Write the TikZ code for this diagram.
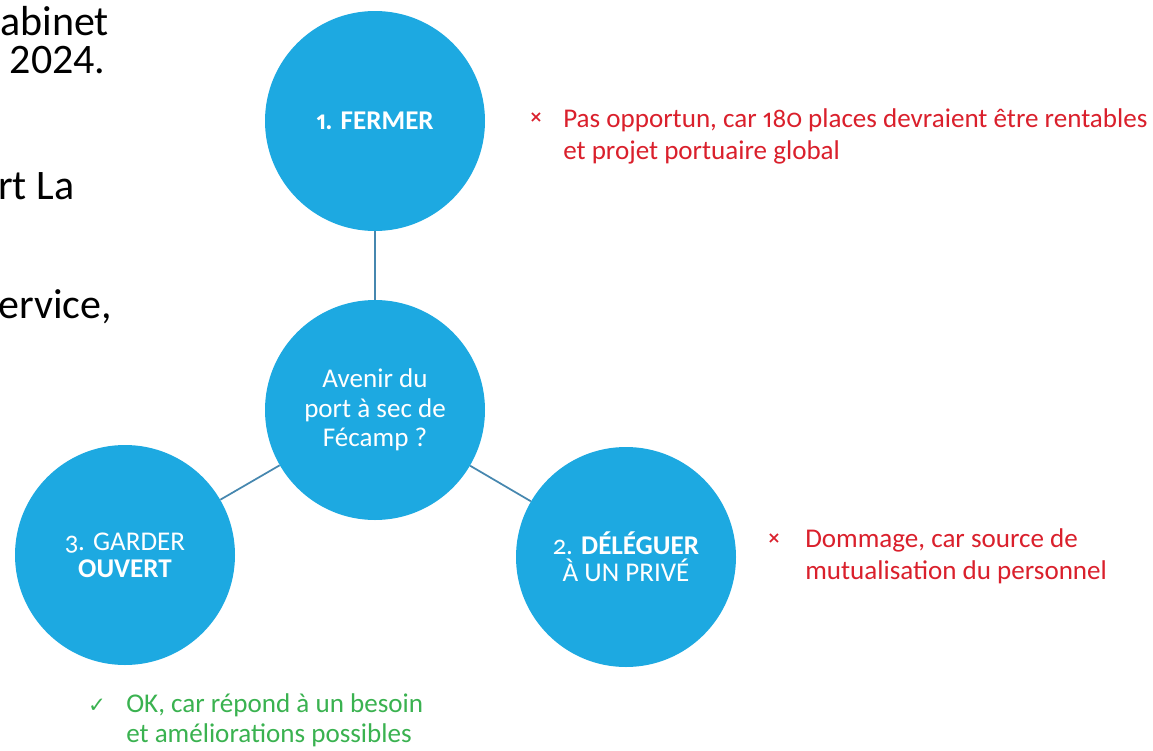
\documentclass[tikz,border=0pt]{standalone}
\usepackage{fontspec}
\setmainfont{Carlito}[Numbers={OldStyle,Proportional}]
\newfontfamily\plainfig{Carlito}
\newfontfamily\symfont{DejaVu Sans}
\definecolor{circblue}{RGB}{29,169,225}
\definecolor{linkblue}{RGB}{70,135,175}
\definecolor{nored}{RGB}{218,32,44}
\definecolor{okgreen}{RGB}{58,178,80}
\newcommand{\twolines}[2]{\begin{tabular}[t]{@{}l@{}}#1\\#2\end{tabular}}
\begin{document}
\begin{tikzpicture}[x=0.75pt,y=-0.75pt,
  bubble/.style={circle,fill=circblue,draw=none,inner sep=0pt,text=white,align=center,
    minimum size=165pt,font=\fontsize{20.3}{20.5}\selectfont},
  link/.style={draw=linkblue,line width=1.3pt},
  slidetext/.style={anchor=base west,inner sep=0pt,font=\plainfig\fontsize{31.5}{36}\selectfont,text=black},
  note/.style={anchor=base west,inner sep=0pt,font=\fontsize{20.3}{24}\selectfont},
  marker/.style={anchor=base,inner sep=0pt}
]
\useasboundingbox (0,0) rectangle (1153,750);
\fill[white] (0,0) rectangle (1153,750);

% cut-off slide text on the left
\node[slidetext] (t1) at (0,35) {abinet};
\node[slidetext] (t2) at (0,73) {\ 2024.};
\node[slidetext] (t3) at (-2,199) {rt La};
\node[slidetext] (t4) at (-2,318) {ervice,};

% circles
\node[bubble] (c1) at (375,121) {\textbf{1. FERMER}};
\node[bubble,font=\fontsize{20.3}{22}\selectfont] (c0) at (375,410) {Avenir du\\port à sec de\\Fécamp ?};
\node[bubble] (c3) at (125,555) {3. GARDER\\\textbf{OUVERT}};
\node[bubble] (c2) at (626,557) {2. \textbf{DÉLÉGUER}\\À UN PRIVÉ};

% connectors
\draw[link] (c1) -- (c0);
\draw[link] (c0) -- (c3);
\draw[link] (c0) -- (c2);

% remarks
\node[marker,text=nored,font=\symfont\bfseries\fontsize{12}{12}\selectfont] (x1) at (536,122) {×};
\node[note,text=nored] (n1) at (563,127) {\twolines{Pas opportun, car 180 places devraient être rentables}{et projet portuaire global}};
\node[marker,text=nored,font=\symfont\bfseries\fontsize{12}{12}\selectfont] (x2) at (774,543) {×};
\node[note,text=nored] (n2) at (805,547) {\twolines{Dommage, car source de}{mutualisation du personnel}};
\node[marker,text=okgreen,font=\symfont\fontsize{16}{16}\selectfont] (ok) at (97,712) {✓};
\node[note,text=okgreen,font=\fontsize{20.3}{22.5}\selectfont] (n3) at (126,712) {\twolines{OK, car répond à un besoin}{et améliorations possibles}};
\end{tikzpicture}
\end{document}
